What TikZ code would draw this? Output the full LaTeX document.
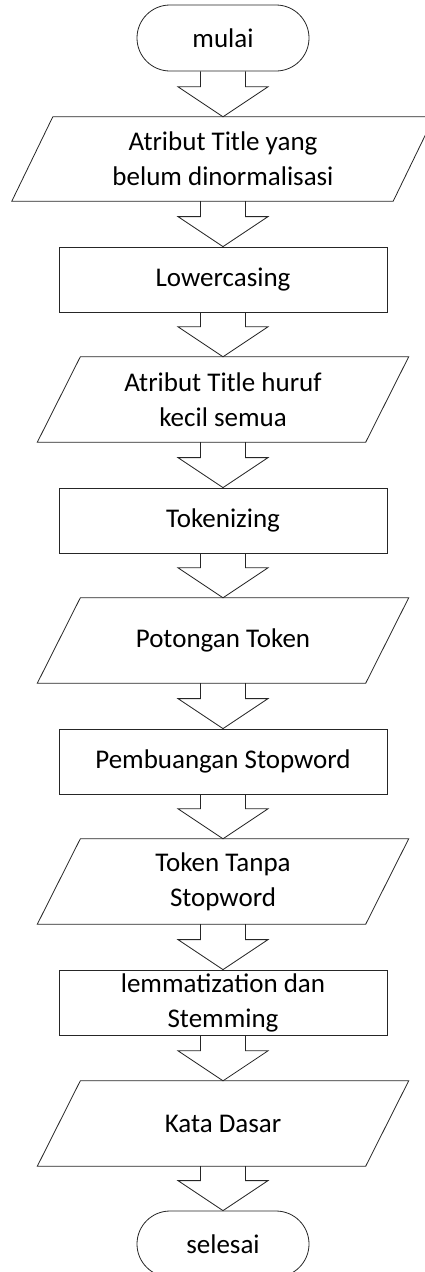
\documentclass[tikz,border=0pt]{standalone}
\usepackage{fontspec}
\setmainfont{Carlito}
\usetikzlibrary{calc}

% hollow block arrow between two named nodes
\newcommand\blockflow[2]{%
  \draw[outline] ($(#1.south)+(-22.5,0)$) -- ($(#2.north)+(-22.5,-30)$)
    -- ($(#2.north)+(-45,-30)$) -- (#2.north) -- ($(#2.north)+(45,-30)$)
    -- ($(#2.north)+(22.5,-30)$) -- ($(#1.south)+(22.5,0)$);}
% parallelogram drawn around a data node
\newcommand\slantframe[2]{%
  \draw[outline] ([xshift=#2]#1.north west) -- ([xshift=#2]#1.north east)
    -- ([xshift=-#2]#1.south east) -- ([xshift=-#2]#1.south west) -- cycle;}

\begin{document}
\begin{tikzpicture}[x=1pt,y=-1pt,
  outline/.style={draw=black!85, line width=0.8pt, line join=miter},
  every node/.style={font=\fontsize{27}{35}\selectfont, align=center, inner sep=0pt, text=black},
  terminal/.style={outline, rectangle, rounded corners=33pt, minimum width=172pt, minimum height=66pt},
  process/.style={outline, rectangle, minimum width=328pt, minimum height=65pt},
  data/.style={rectangle, minimum width=328pt, minimum height=85pt}]
\useasboundingbox (0,0) rectangle (425,1272);

\node[terminal] (start) at (223,38) {mulai};
\node[data, minimum width=381pt, minimum height=84pt] (in1) at (223,159) {Atribut Title yang\\belum dinormalisasi};
\node[process] (p1) at (223,279.5) {Lowercasing};
\node[data] (in2) at (223,399.5) {Atribut Title huruf\\kecil semua};
\node[process] (p2) at (223,520.5) {Tokenizing};
\node[data] (in3) at (223,640.5) {Potongan Token};
\node[process] (p3) at (223,761.5) {Pembuangan Stopword};
\node[data] (in4) at (223,881.5) {Token Tanpa\\Stopword};
\node[process] (p4) at (223,1002.5) {lemmatization dan\\Stemming};
\node[data] (in5) at (223,1123.5) {Kata Dasar};
\node[terminal] (stop) at (223,1244) {selesai};

\slantframe{in1}{20.5pt}
\slantframe{in2}{21.5pt}
\slantframe{in3}{21.5pt}
\slantframe{in4}{21.5pt}
\slantframe{in5}{21.5pt}

\blockflow{start}{in1}
\blockflow{in1}{p1}
\blockflow{p1}{in2}
\blockflow{in2}{p2}
\blockflow{p2}{in3}
\blockflow{in3}{p3}
\blockflow{p3}{in4}
\blockflow{in4}{p4}
\blockflow{p4}{in5}
\blockflow{in5}{stop}
\end{tikzpicture}
\end{document}
